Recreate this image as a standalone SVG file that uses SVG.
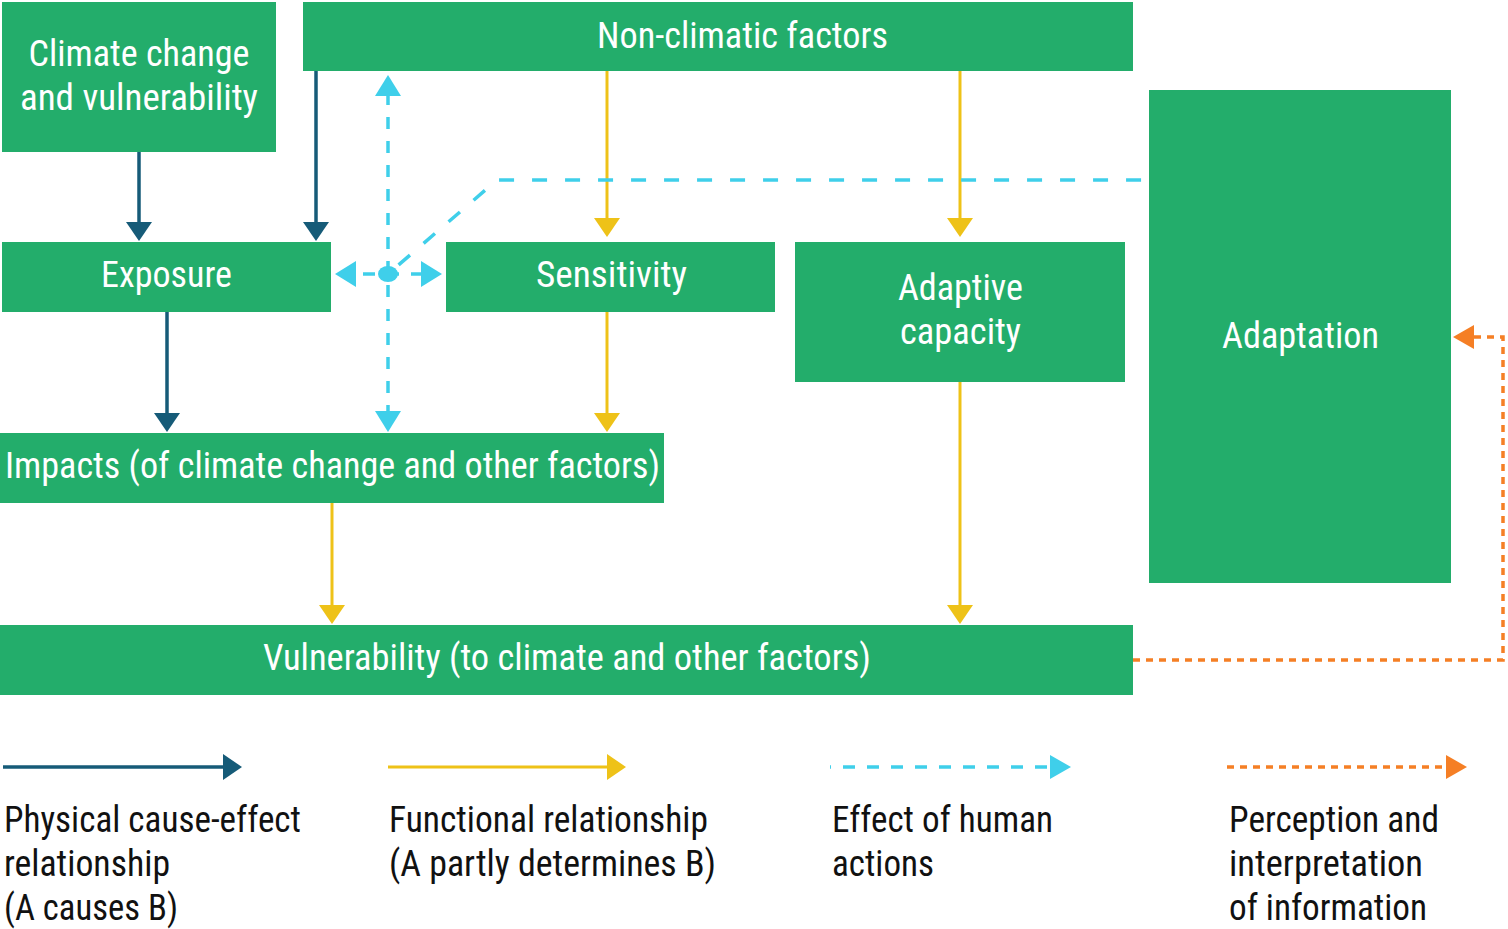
<svg xmlns="http://www.w3.org/2000/svg" width="1508" height="929" viewBox="0 0 1508 929">
<style>
.box{fill:#23AD6B}
.bt{fill:#FFFFFF;font-family:"Liberation Sans Narrow","Roboto Condensed","Liberation Sans",sans-serif;font-size:37px;text-anchor:middle}
.lt{fill:#111111;font-family:"Liberation Sans Narrow","Roboto Condensed","Liberation Sans",sans-serif;font-size:37px}
.blue{stroke:#165B78;stroke-width:3.5;fill:none}
.yel{stroke:#EEC218;stroke-width:3;fill:none}
.cyan{stroke:#3FCFEA;stroke-width:3.5;fill:none;stroke-dasharray:12 12}
.cyanh{stroke:#3FCFEA;stroke-width:3.5;fill:none;stroke-dasharray:15 18}
.orng{stroke:#F57F25;stroke-width:3.5;fill:none;stroke-dasharray:7 6}
</style>
<defs>
<marker id="mBlue" markerUnits="userSpaceOnUse" markerWidth="20" markerHeight="26" refX="1" refY="13" orient="auto"><path d="M0,0 L19,13 L0,26 z" fill="#165B78"/></marker>
<marker id="mYel" markerUnits="userSpaceOnUse" markerWidth="20" markerHeight="26" refX="1" refY="13" orient="auto"><path d="M0,0 L19,13 L0,26 z" fill="#EEC218"/></marker>
<marker id="mCyan" markerUnits="userSpaceOnUse" markerWidth="22" markerHeight="26" refX="1" refY="13" orient="auto-start-reverse"><path d="M0,0 L21,13 L0,26 z" fill="#3FCFEA"/></marker>
<marker id="mOrng" markerUnits="userSpaceOnUse" markerWidth="22" markerHeight="24" refX="1" refY="12" orient="auto"><path d="M0,0 L21,12 L0,24 z" fill="#F57F25"/></marker>
</defs>
<rect width="1508" height="929" fill="#FFFFFF"/>

<g id="connectors">
<line class="blue" x1="139" y1="152" x2="139" y2="223" marker-end="url(#mBlue)"/>
<line class="blue" x1="316" y1="71" x2="316" y2="223" marker-end="url(#mBlue)"/>
<line class="blue" x1="167" y1="312" x2="167" y2="414" marker-end="url(#mBlue)"/>
<line class="yel" x1="607" y1="71" x2="607" y2="219" marker-end="url(#mYel)"/>
<line class="yel" x1="960" y1="71" x2="960" y2="219" marker-end="url(#mYel)"/>
<line class="yel" x1="607" y1="312" x2="607" y2="414" marker-end="url(#mYel)"/>
<line class="yel" x1="332" y1="503" x2="332" y2="606" marker-end="url(#mYel)"/>
<line class="yel" x1="960" y1="382" x2="960" y2="606" marker-end="url(#mYel)"/>
<line class="cyan" x1="388" y1="95" x2="388" y2="412" stroke-dashoffset="2" marker-start="url(#mCyan)" marker-end="url(#mCyan)"/>
<line class="cyan" x1="355" y1="274" x2="422" y2="274" stroke-dasharray="10 10" stroke-dashoffset="-8" marker-start="url(#mCyan)" marker-end="url(#mCyan)"/>
<path class="cyanh" d="M388 274 L497 180 L1149 180" stroke-dashoffset="-14"/>
<ellipse cx="388" cy="274" rx="10" ry="8" fill="#3FCFEA"/>
<path class="orng" d="M1133 660 H1503 V337 H1473" marker-end="url(#mOrng)"/>
</g>

<g id="n-climate"><rect class="box" x="2" y="2" width="274" height="150"/>
<text class="bt" x="139" y="66" textLength="221" lengthAdjust="spacingAndGlyphs">Climate change</text>
<text class="bt" x="139" y="110" textLength="238" lengthAdjust="spacingAndGlyphs">and vulnerability</text></g>
<g id="n-nonclimatic"><rect class="box" x="303" y="2" width="830" height="69"/>
<text class="bt" x="742.5" y="48" textLength="291" lengthAdjust="spacingAndGlyphs">Non-climatic factors</text></g>
<g id="n-exposure"><rect class="box" x="2" y="242" width="329" height="70"/>
<text class="bt" x="166.5" y="287" textLength="131" lengthAdjust="spacingAndGlyphs">Exposure</text></g>
<g id="n-sensitivity"><rect class="box" x="446" y="242" width="329" height="70"/>
<text class="bt" x="611.5" y="287" textLength="151" lengthAdjust="spacingAndGlyphs">Sensitivity</text></g>
<g id="n-adaptive"><rect class="box" x="795" y="242" width="330" height="140"/>
<text class="bt" x="960.5" y="300" textLength="125" lengthAdjust="spacingAndGlyphs">Adaptive</text>
<text class="bt" x="960.5" y="344" textLength="121" lengthAdjust="spacingAndGlyphs">capacity</text></g>
<g id="n-adaptation"><rect class="box" x="1149" y="90" width="302" height="493"/>
<text class="bt" x="1300.5" y="348" textLength="157" lengthAdjust="spacingAndGlyphs">Adaptation</text></g>
<g id="n-impacts"><rect class="box" x="0" y="433" width="664" height="70"/>
<text class="bt" x="332.5" y="478" textLength="655" lengthAdjust="spacingAndGlyphs">Impacts (of climate change and other factors)</text></g>
<g id="n-vulnerability"><rect class="box" x="0" y="625" width="1133" height="70"/>
<text class="bt" x="567" y="670" textLength="608" lengthAdjust="spacingAndGlyphs">Vulnerability (to climate and other factors)</text></g>

<g id="legend">
<line class="blue" x1="3" y1="767" x2="224" y2="767" marker-end="url(#mBlue)"/>
<line class="yel" x1="388" y1="767" x2="608" y2="767" marker-end="url(#mYel)"/>
<line class="cyan" x1="830" y1="767" x2="1050" y2="767" stroke-dasharray="17 14" stroke-dashoffset="11"/>
<path d="M1050,755 L1071,767 L1050,779 z" fill="#3FCFEA"/>
<line class="orng" x1="1227" y1="767" x2="1447" y2="767" marker-end="url(#mOrng)"/>
<text class="lt" x="4" y="832" textLength="297" lengthAdjust="spacingAndGlyphs">Physical cause-effect</text>
<text class="lt" x="4" y="876" textLength="166" lengthAdjust="spacingAndGlyphs">relationship</text>
<text class="lt" x="4" y="920" textLength="174" lengthAdjust="spacingAndGlyphs">(A causes B)</text>
<text class="lt" x="389" y="832" textLength="319" lengthAdjust="spacingAndGlyphs">Functional relationship</text>
<text class="lt" x="389" y="876" textLength="327" lengthAdjust="spacingAndGlyphs">(A partly determines B)</text>
<text class="lt" x="832" y="832" textLength="221" lengthAdjust="spacingAndGlyphs">Effect of human</text>
<text class="lt" x="832" y="876" textLength="102" lengthAdjust="spacingAndGlyphs">actions</text>
<text class="lt" x="1229" y="832" textLength="210" lengthAdjust="spacingAndGlyphs">Perception and</text>
<text class="lt" x="1229" y="876" textLength="194" lengthAdjust="spacingAndGlyphs">interpretation</text>
<text class="lt" x="1229" y="920" textLength="198" lengthAdjust="spacingAndGlyphs">of information</text>
</g>
</svg>
